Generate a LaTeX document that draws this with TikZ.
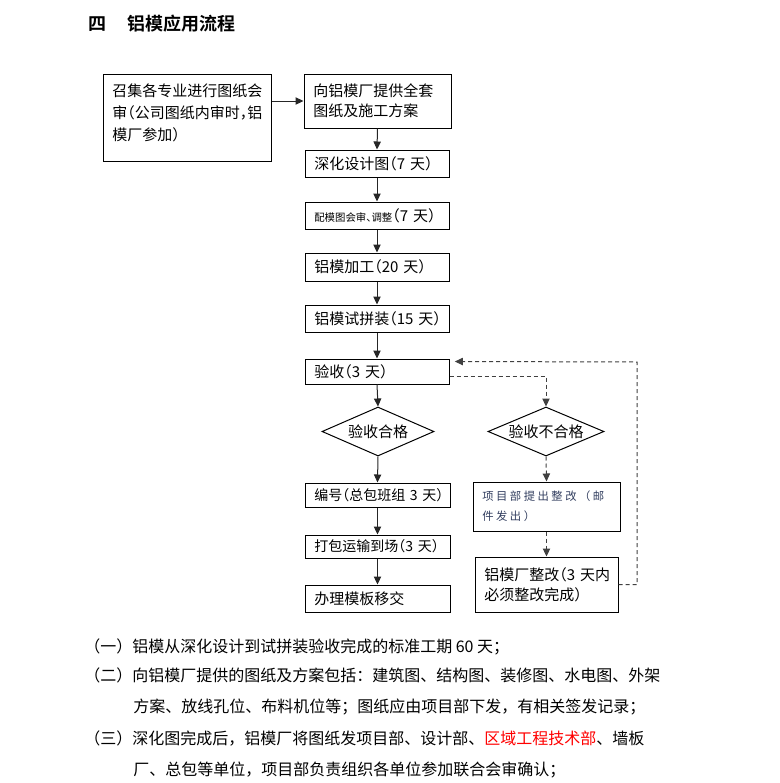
\documentclass[tikz,border=0pt]{standalone}
\usepackage{fontspec}
\setmainfont{Noto Sans CJK SC}[BoldFont={Noto Sans CJK SC Bold}]
\newfontfamily\boxfont{Noto Sans CJK SC}[RawFeature=+halt]
\newfontfamily\widefont{Noto Sans CJK SC}[LetterSpace=22]
\usetikzlibrary{arrows.meta,shapes.geometric}
\definecolor{notered}{RGB}{255,0,0}
\definecolor{mailblue}{RGB}{50,62,95}

\begin{document}
\begin{tikzpicture}[x=0.75pt, y=-0.75pt,
  flowbox/.style={draw, line width=0.75pt, inner xsep=7pt, inner ysep=0pt,
    align=left, font=\boxfont\fontsize{11.25pt}{15pt}\selectfont},
  check/.style={draw, diamond, aspect=2.3, line width=0.75pt, inner sep=0pt,
    minimum height=36.75pt, font=\boxfont\fontsize{11.25pt}{15pt}\selectfont},
  flowline/.style={line width=0.75pt, black!85, -{Triangle[length=6pt,width=5.5pt]}},
  backline/.style={flowline, black!75, dash pattern=on 3pt off 2.25pt},
  note/.style={anchor=west, inner sep=0pt, font=\fontsize{12pt}{16pt}\selectfont}]
  \useasboundingbox (0,0) rectangle (780,783);
  % Title
  \node[anchor=west, inner sep=0pt, font=\bfseries\fontsize{13.5pt}{16pt}\selectfont]
    (title) at (88,23.5) {四\hspace{15.75pt}铝模应用流程};
  % Flow boxes
  \node[flowbox, minimum width=126pt, minimum height=65.25pt, font=\boxfont\fontsize{11.25pt}{16.5pt}\selectfont]
    (meet) at (187,117.5) {\parbox[c][51pt][t]{112pt}{召集各专业进行图纸会\\审（公司图纸内审时，铝\\模厂参加）}};
  \node[flowbox, text width=96.25pt, minimum height=40.5pt] (supply) at (377.5,101) {向铝模厂提供全套\\图纸及施工方案};
  \node[flowbox, text width=94pt, minimum height=20.25pt] (deepen) at (377,163.5) {深化设计图（7~天）};
  \node[flowbox, text width=94pt, minimum height=20.25pt] (review) at (377,215.5)
    {{\fontsize{7.8pt}{9pt}\selectfont 配模图会审、调整}（7~天）};
  \node[flowbox, text width=94pt, minimum height=21pt] (make) at (377,267) {铝模加工（20~天）};
  \node[flowbox, text width=94pt, minimum height=20.25pt] (trial) at (377,318.5) {铝模试拼装（15~天）};
  \node[flowbox, text width=94pt, minimum height=18.75pt] (accept) at (377,371.5) {验收（3~天）};
  % Decisions
  \node[check, minimum width=84pt] (pass) at (378,431.5) {验收合格};
  \node[check, minimum width=87pt] (fail) at (546,431.5) {验收不合格};
  % Passed branch
  \node[flowbox, text width=94.75pt, minimum height=18pt, font=\boxfont\fontsize{10.5pt}{14pt}\selectfont]
    (number) at (377.5,495) {编号（总包班组~3~天）};
  \node[flowbox, text width=94.75pt, minimum height=17.25pt, font=\boxfont\fontsize{10.5pt}{14pt}\selectfont]
    (ship) at (377.5,546.5) {打包运输到场（3~天）};
  \node[flowbox, text width=94.75pt, minimum height=20.25pt] (handover) at (377.5,598.5) {办理模板移交};
  % Failed branch
  \node[flowbox, text width=96.25pt, minimum height=36.75pt, text=mailblue,
    font=\widefont\fontsize{8.5pt}{15pt}\selectfont] (notice) at (546.5,506.5) {项目部提出整改（邮\\件发出）};
  \node[flowbox, text width=93.25pt, minimum height=41.25pt] (fix) at (546.5,584.5) {铝模厂整改（3~天内\\必须整改完成）};
  \coordinate (loop) at (637,362);
  % Connectors
  \draw[flowline] (meet.east |- supply.west) -- (supply.west);
  \draw[flowline] (supply.south) -- (deepen.north);
  \draw[flowline] (deepen.south) -- (review.north);
  \draw[flowline] (review.south) -- (make.north);
  \draw[flowline] (make.south) -- (trial.north);
  \draw[flowline] (trial.south) -- (accept.north);
  \draw[flowline] (accept.south) -- (pass.north);
  \draw[flowline] (pass.south) -- (number.north);
  \draw[flowline] (number.south) -- (ship.north);
  \draw[flowline] (ship.south) -- (handover.north);
  \draw[backline] ([yshift=-3.4pt]accept.east) -| (fail.north);
  \draw[backline] (fail.south) -- (notice.north);
  \draw[backline] (notice.south) -- (fix.north);
  \draw[backline] (fix.east) -| (loop) -- ([xshift=4pt,yshift=-2.25pt]accept.north east);
  % Notes
  \node[note] (note1) at (84,646.5) {（一）铝模从深化设计到试拼装验收完成的标准工期 60 天；};
  \node[note] (note2) at (84,675) {（二）向铝模厂提供的图纸及方案包括：建筑图、结构图、装修图、水电图、外架};
  \node[note] (note2b) at (133,707) {方案、放线孔位、布料机位等；图纸应由项目部下发，有相关签发记录；};
  \node[note] (note3) at (84,738) {（三）深化图完成后，铝模厂将图纸发项目部、设计部、\textcolor{notered}{区域工程技术部}、墙板};
  \node[note] (note3b) at (133,770) {厂、总包等单位，项目部负责组织各单位参加联合会审确认；};
\end{tikzpicture}
\end{document}
